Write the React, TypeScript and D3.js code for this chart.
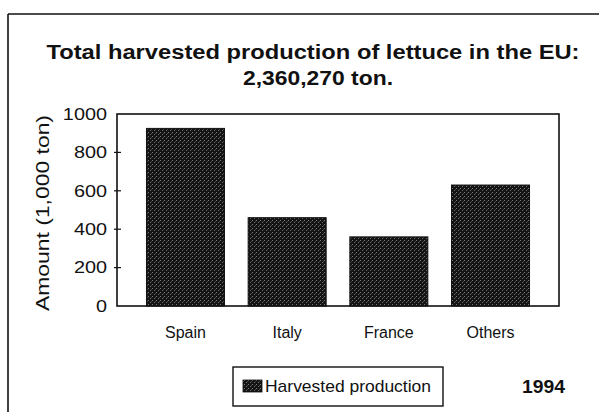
import React from "react";
import * as d3 from "d3";

const categories = ["Spain", "Italy", "France", "Others"];
const values = [925, 460, 360, 630];
const yTicks = [0, 200, 400, 600, 800, 1000];
const titleLines = ["Total harvested production of lettuce in the EU:", "2,360,270 ton."];
const yLabel = "Amount (1,000 ton)";
const legendLabel = "Harvested production";
const yearLabel = "1994";

const W = 599;
const H = 412;
const plot = { left: 117, right: 559, top: 114, bottom: 306 };
const FONT = "'Liberation Sans', Arial, Helvetica, sans-serif";

export default function App() {
  const x = d3
    .scaleBand<string>()
    .domain(categories)
    .range([plot.left, plot.right])
    .paddingInner(0.233)
    .paddingOuter(0.29);
  const y = d3.scaleLinear().domain([0, 1000]).range([plot.bottom, plot.top]);

  return (
    <svg
      width={W}
      height={H}
      viewBox={`0 0 ${W} ${H}`}
      style={{ position: "absolute", left: 0, top: 0, background: "#fff" }}
      fontFamily={FONT}
    >
      <defs>
        <pattern id="stip" width={4} height={4} patternUnits="userSpaceOnUse">
          <rect x={0} y={0} width={4} height={4} fill="#141414" />
          <rect x={0} y={0} width={1} height={1} fill="#7a7a7a" />
          <rect x={2} y={2} width={1} height={1} fill="#6a6a6a" />
          <rect x={3} y={1} width={1} height={1} fill="#444" />
        </pattern>
      </defs>
      <rect x={0} y={0} width={W} height={H} fill="#fff" />
      {/* outer frame */}
      <line x1={8} y1={14} x2={W} y2={14} stroke="#111" strokeWidth={1.6} />
      <line x1={8} y1={14} x2={8} y2={H} stroke="#111" strokeWidth={1.6} />

      {/* title */}
      <text
        x={313}
        y={58.5}
        textAnchor="middle"
        fontWeight="bold"
        fontSize={20}
        textLength={533}
        lengthAdjust="spacingAndGlyphs"
        fill="#111"
      >
        {titleLines[0]}
      </text>
      <text
        x={318}
        y={85}
        textAnchor="middle"
        fontWeight="bold"
        fontSize={20}
        textLength={150}
        lengthAdjust="spacingAndGlyphs"
        fill="#111"
      >
        {titleLines[1]}
      </text>

      {/* bars */}
      {categories.map((c, i) => (
        <rect
          key={c}
          x={x(c)}
          y={y(values[i])}
          width={x.bandwidth()}
          height={y(0) - y(values[i])}
          fill="url(#stip)"
          stroke="#111"
          strokeWidth={1}
        />
      ))}

      {/* plot frame */}
      <rect
        x={plot.left}
        y={plot.top}
        width={plot.right - plot.left}
        height={plot.bottom - plot.top}
        fill="none"
        stroke="#111"
        strokeWidth={1.6}
      />

      {/* y ticks */}
      {yTicks.map((t) => (
        <g key={t}>
          {t !== 0 && t !== 1000 && (
            <line x1={114} x2={121} y1={y(t)} y2={y(t)} stroke="#111" strokeWidth={1.2} />
          )}
          <text
            x={107}
            y={y(t)}
            dy="0.36em"
            textAnchor="end"
            fontSize={16}
            textLength={String(t).length * 0.556 * 16 * 1.24}
            lengthAdjust="spacingAndGlyphs"
            fill="#111"
          >
            {t}
          </text>
        </g>
      ))}

      {/* y label */}
      <text
        transform={`translate(49, 213) rotate(-90)`}
        textAnchor="middle"
        fontSize={18}
        textLength={196}
        lengthAdjust="spacingAndGlyphs"
        fill="#111"
      >
        {yLabel}
      </text>

      {/* category labels */}
      {categories.map((c) => (
        <text
          key={c}
          x={(x(c) as number) + x.bandwidth() / 2}
          y={338}
          textAnchor="middle"
          fontSize={16}
          fill="#111"
        >
          {c}
        </text>
      ))}

      {/* legend */}
      <rect x={233} y={367} width={210} height={39} fill="#fff" stroke="#111" strokeWidth={1.4} />
      <rect x={243} y={380} width={19} height={12} fill="url(#stip)" stroke="#111" strokeWidth={0.8} />
      <text
        x={265}
        y={391.5}
        fontSize={17}
        textLength={166}
        lengthAdjust="spacingAndGlyphs"
        fill="#111"
      >
        {legendLabel}
      </text>
      <text
        x={522}
        y={393}
        fontSize={18}
        fontWeight="bold"
        textLength={43}
        lengthAdjust="spacingAndGlyphs"
        fill="#111"
      >
        {yearLabel}
      </text>
    </svg>
  );
}
